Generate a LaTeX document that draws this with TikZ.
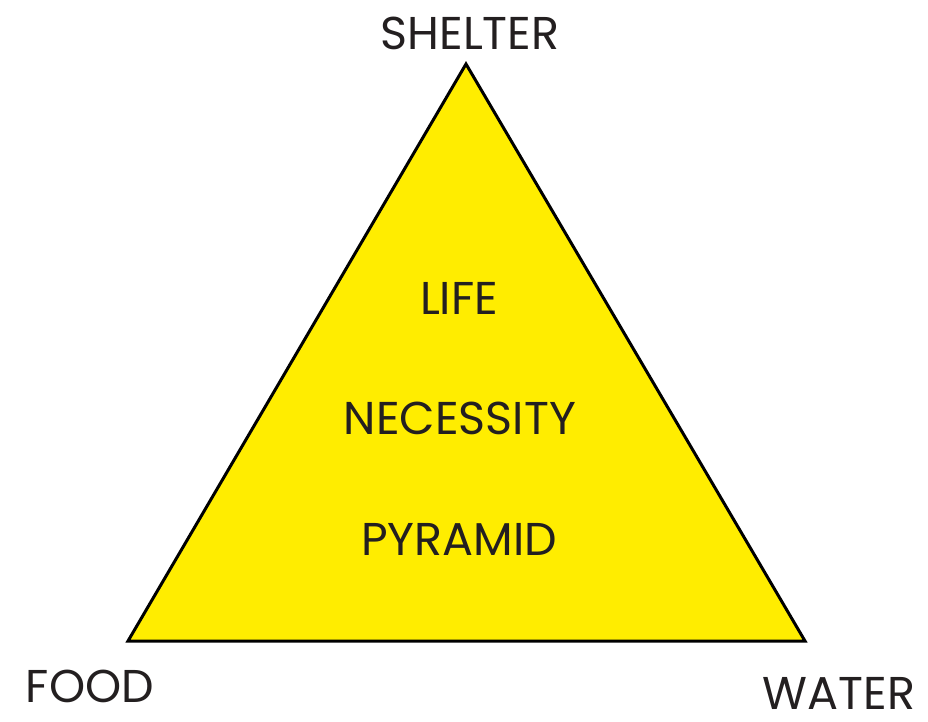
\documentclass[tikz,border=0pt]{standalone}
\usepackage{fontspec}
\setmainfont{Poppins}
\definecolor{pyryellow}{HTML}{FFED00}
\definecolor{inkgray}{HTML}{231F20}
\begin{document}
\begin{tikzpicture}[x=1pt,y=-1pt,
  label text/.style={text=inkgray,font=\fontsize{46}{46}\selectfont,inner sep=0pt,anchor=base}]
\useasboundingbox (0,0) rectangle (928,721);
% the pyramid
\coordinate (apex) at (466,64);
\coordinate (left) at (128,641);
\coordinate (right) at (805,641);
\filldraw[fill=pyryellow,draw=black,line width=3pt,line join=miter] (apex) -- (left) -- (right) -- cycle;
% corner labels
\node[label text] (shelter) at (470,49) {SHELTER};
\node[label text] (food) at (90,702) {FOOD};
\node[label text] (water) at (839,709) {WATER};
% inner title
\node[label text] (life) at (459,314) {LIFE};
\node[label text] (necessity) at (460,434) {NECESSITY};
\node[label text] (pyramid) at (459,555) {PYRAMID};
\end{tikzpicture}
\end{document}
